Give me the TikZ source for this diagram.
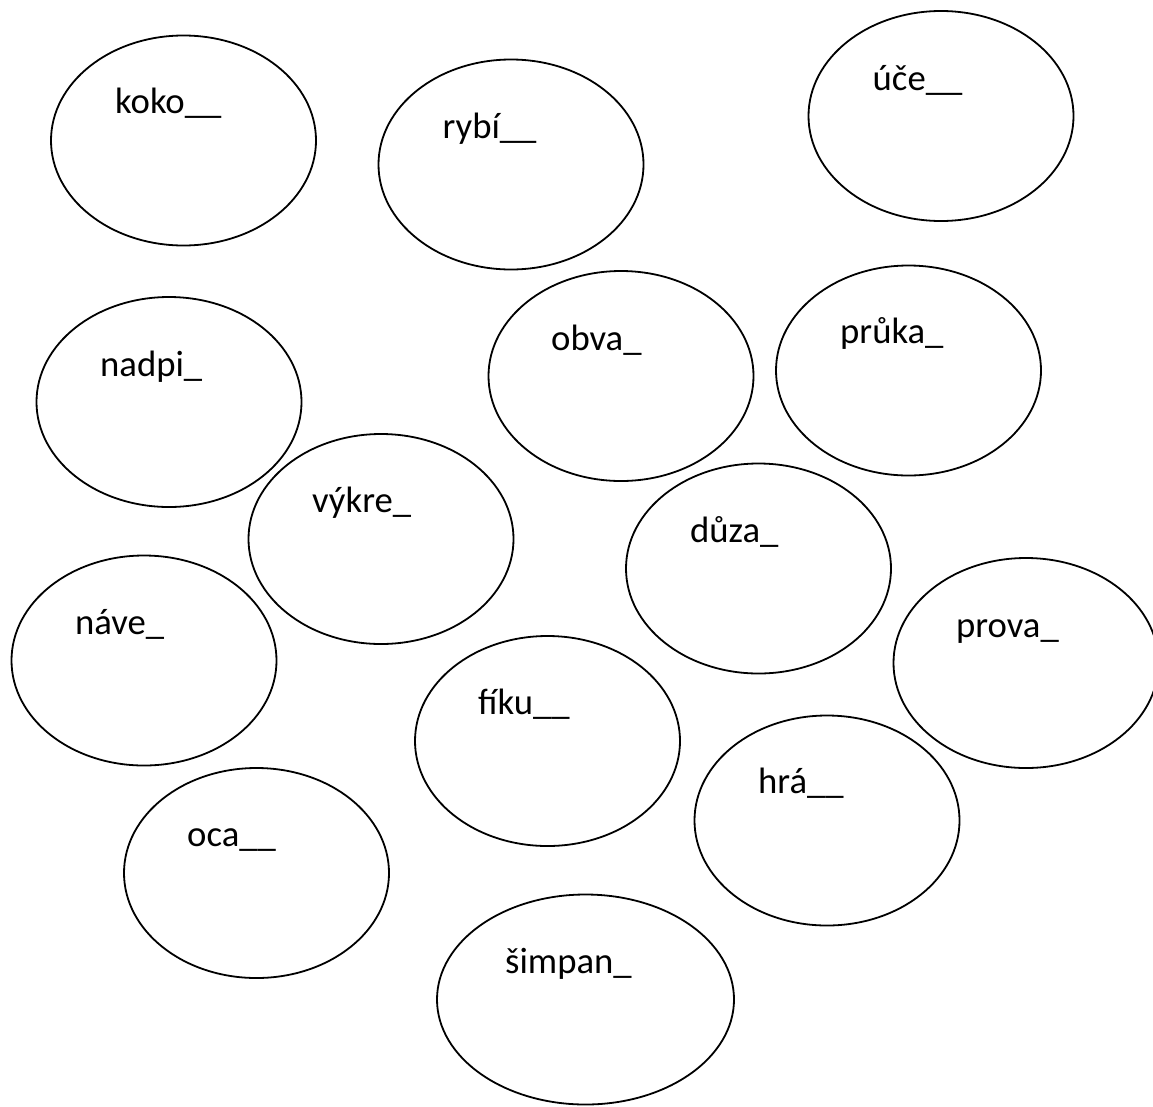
\documentclass[tikz,border=0pt]{standalone}
\usepackage{fontspec}
\setmainfont{Carlito}
\usetikzlibrary{shapes.geometric}
\begin{document}
\begin{tikzpicture}[x=1pt,y=-1pt,
  bubble/.style={draw, ellipse, line width=1.8pt, inner sep=0pt, minimum width=265pt, minimum height=210pt},
  wide/.style={minimum width=297pt},
  word/.style={anchor=base west, inner sep=0pt, font=\fontsize{36.7}{44}\selectfont}]
\useasboundingbox (0,0) rectangle (1153,1106);
\node[bubble] (e1)  at (183.5,140.5) {};
\node[bubble] (e2)  at (511,164.5) {};
\node[bubble] (e3)  at (941,116) {};
\node[bubble] (e4)  at (169,402) {};
\node[bubble] (e5)  at (621,376) {};
\node[bubble] (e6)  at (908.5,370.5) {};
\node[bubble] (e7)  at (381,539) {};
\node[bubble] (e8)  at (758.5,568.5) {};
\node[bubble] (e9)  at (144,660.5) {};
\node[bubble] (e10) at (1026,663) {};
\node[bubble] (e11) at (547.5,741) {};
\node[bubble] (e12) at (827,820.5) {};
\node[bubble] (e13) at (256.5,873) {};
\node[bubble,wide] (e14) at (585.5,999.5) {};
\node[word] (t1)  at (115,113) {koko\_\_};
\node[word] (t2)  at (442.5,138) {rybí\_\_};
\node[word] (t3)  at (872.5,90) {úče\_\_};
\node[word] (t4)  at (100,376) {nadpi\_};
\node[word] (t5)  at (551,350) {obva\_};
\node[word] (t6)  at (840,343) {průka\_};
\node[word] (t7)  at (312,512) {výkre\_};
\node[word] (t8)  at (690,542) {důza\_};
\node[word] (t9)  at (75,634.6) {náve\_};
\node[word] (t10) at (956,637) {prova\_};
\node[word] (t11) at (478,714) {fíku\_\_};
\node[word] (t12) at (758,793) {hrá\_\_};
\node[word] (t13) at (187,846) {oca\_\_};
\node[word] (t14) at (505,973) {šimpan\_};
\end{tikzpicture}
\end{document}
